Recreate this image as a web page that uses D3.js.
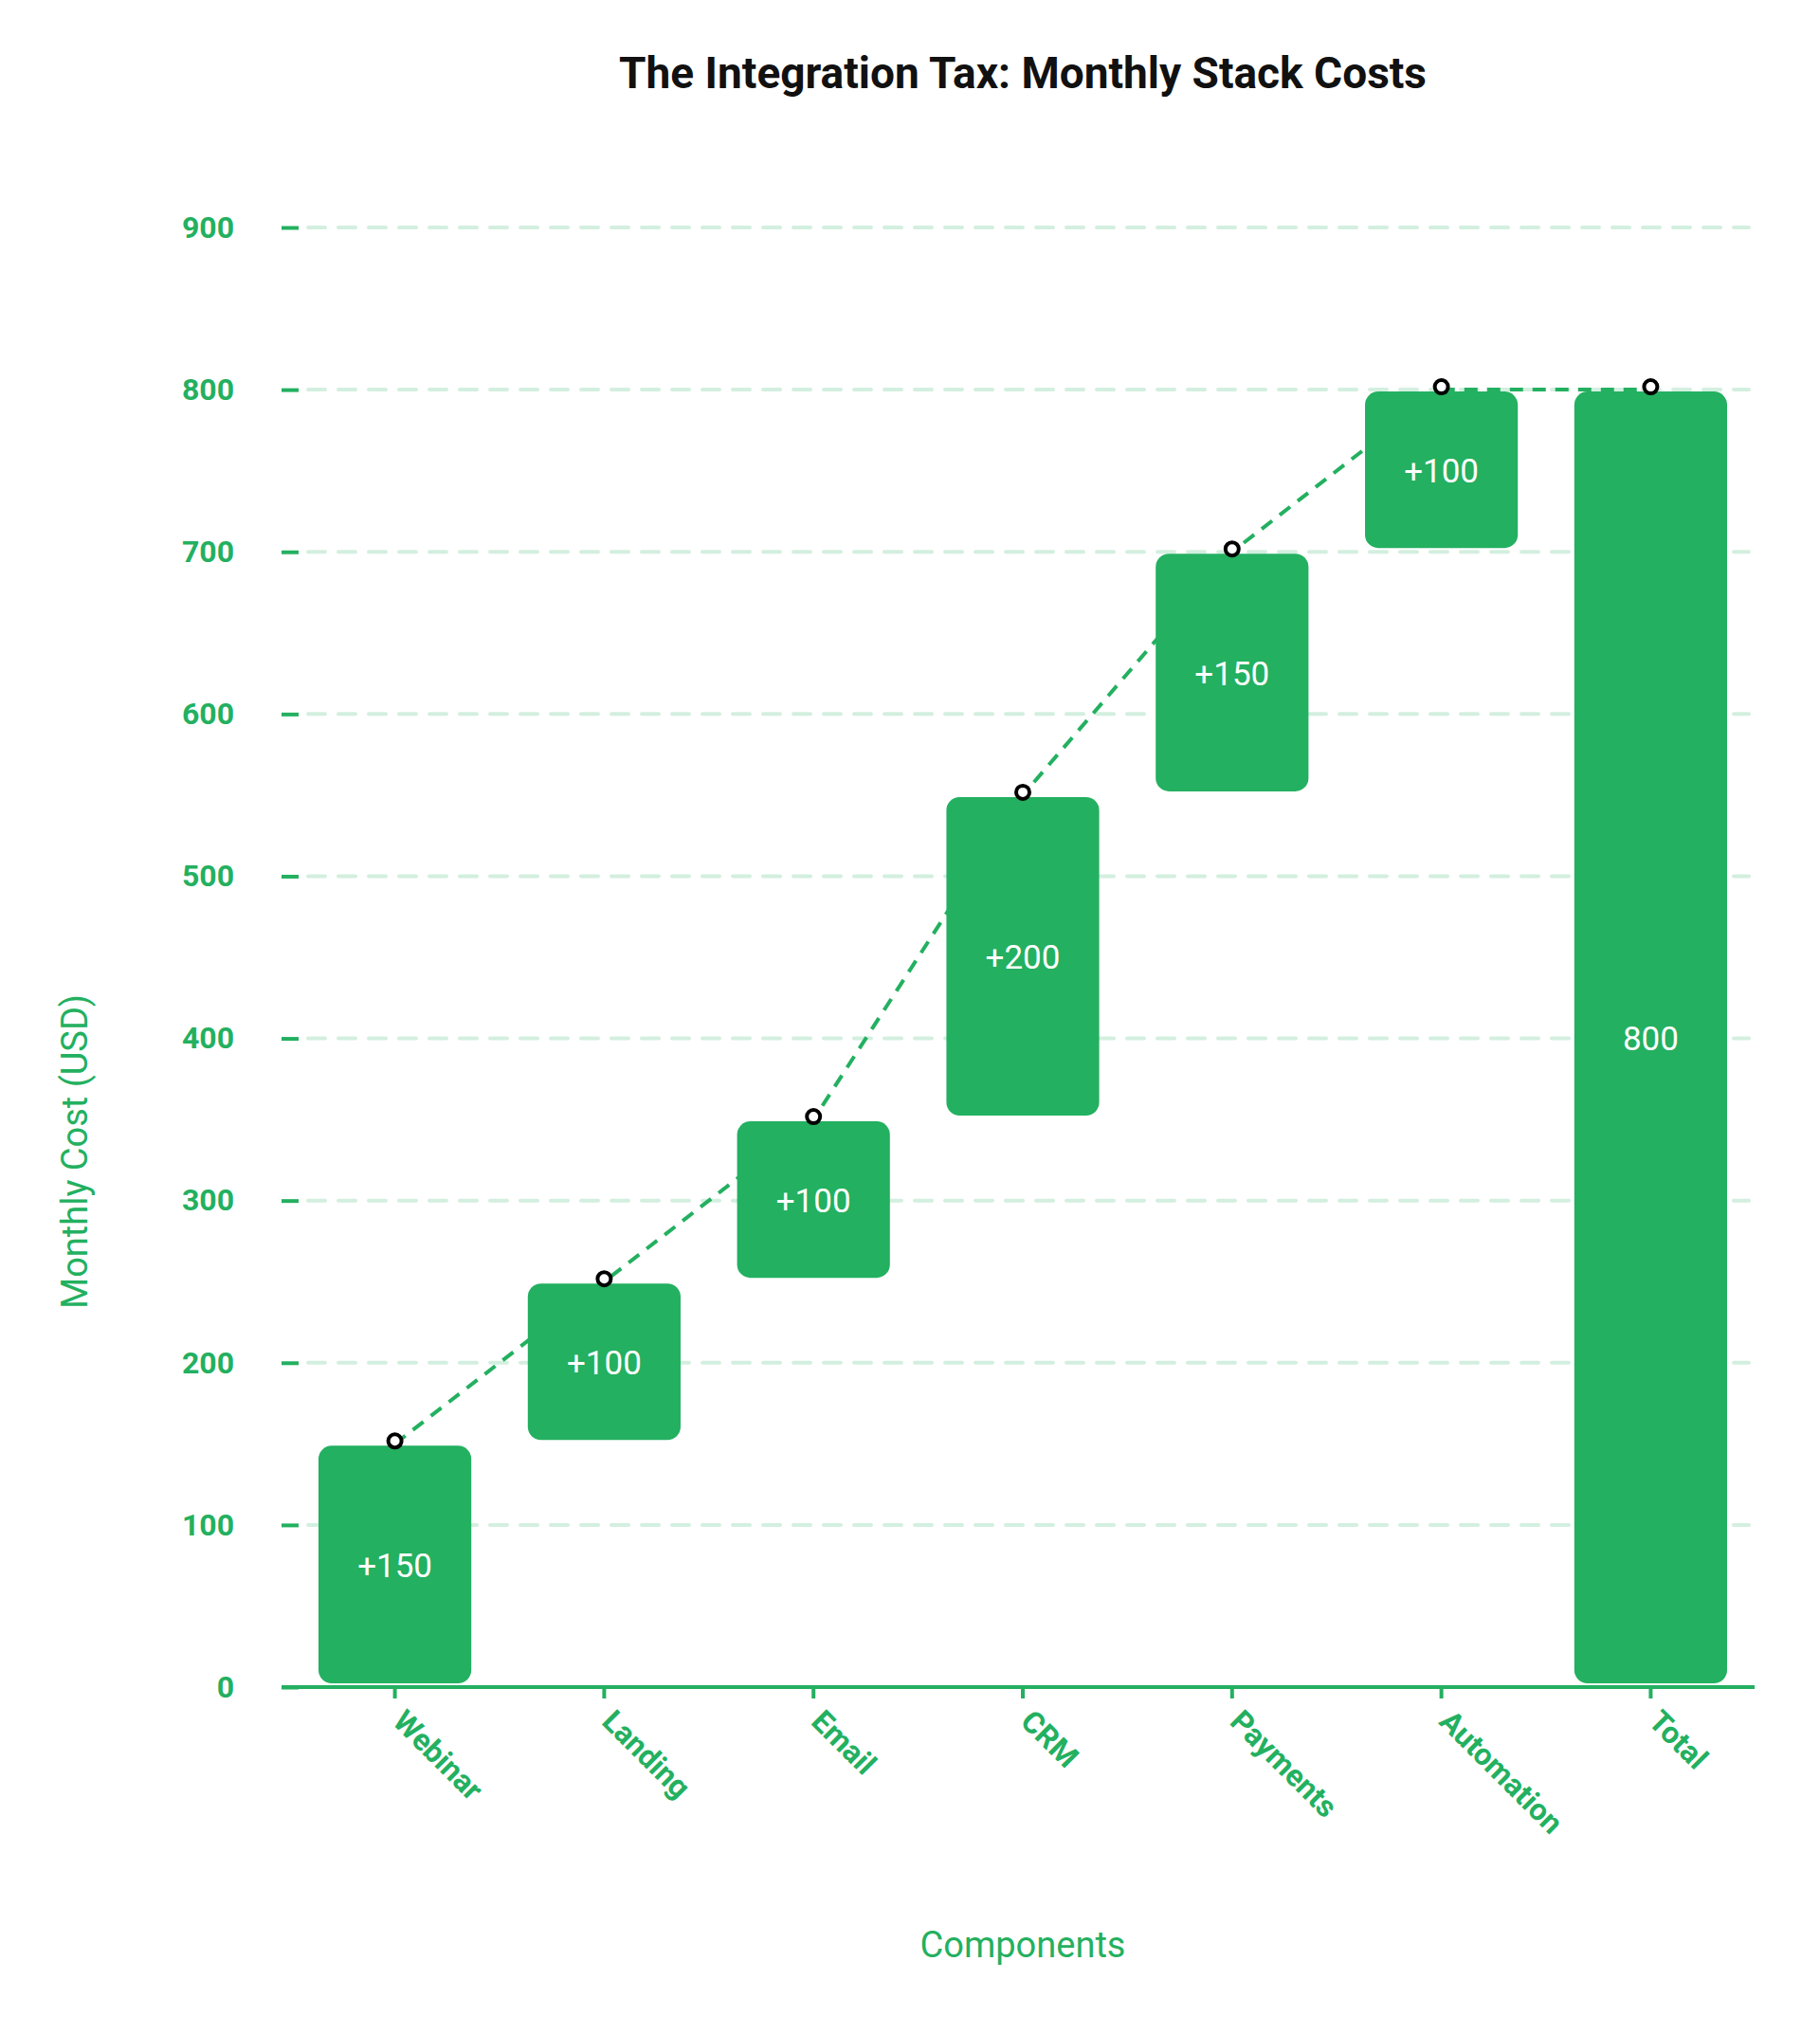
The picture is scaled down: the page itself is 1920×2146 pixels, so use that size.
<!DOCTYPE html>
<html>
<head>
<meta charset="utf-8">
<script src="https://cdn.jsdelivr.net/npm/d3@7"></script>
<style>
  body { margin: 0; background: #fff; }
  svg text { font-family: Roboto, "Noto Sans", sans-serif; }
</style>
</head>
<body>
<svg id="chart" width="1920" height="2146"></svg>
<script>
const categories = ["Webinar", "Landing", "Email", "CRM", "Payments", "Automation", "Total"];
const deltas = [150, 100, 100, 200, 150, 100, null];
const yTicks = [0, 100, 200, 300, 400, 500, 600, 700, 800, 900];

const green = "#23b060";

// build waterfall segments
let running = 0;
const bars = categories.map((c, i) => {
  if (deltas[i] === null) return { cat: c, start: 0, end: running, label: String(running) };
  const start = running;
  running += deltas[i];
  return { cat: c, start, end: running, label: "+" + deltas[i] };
});

const svg = d3.select("#chart");

const x = d3.scaleBand().domain(categories).range([336, 1822]).paddingInner(0.27).paddingOuter(0);
const y = d3.scaleLinear().domain([0, 900]).range([1780, 240]);

// title
svg.append("text")
  .attr("x", 1079).attr("y", 93)
  .attr("text-anchor", "middle")
  .style("font-size", "46px").style("font-weight", "bold").style("fill", "#111")
  .text("The Integration Tax: Monthly Stack Costs");

// grid lines
svg.append("g").selectAll("line").data(yTicks.filter(d => d > 0)).join("line")
  .attr("x1", 325).attr("x2", 1845)
  .attr("y1", d => y(d)).attr("y2", d => y(d))
  .style("stroke", "#d3efdf").style("stroke-width", 4)
  .style("stroke-dasharray", "18,14").style("stroke-linecap", "round");

// y axis
const yAxis = svg.append("g").attr("transform", "translate(315,0)")
  .call(d3.axisLeft(y).tickValues(yTicks).tickSize(18).tickPadding(50));
yAxis.select(".domain").remove();
yAxis.selectAll(".tick line").style("stroke", green).style("stroke-width", 4);
yAxis.selectAll(".tick text").style("fill", green).style("font-size", "32px").style("font-weight", "bold");

// x axis
const xAxis = svg.append("g").attr("transform", "translate(0,1780)")
  .call(d3.axisBottom(x).tickSize(12).tickSizeOuter(0));
xAxis.select(".domain").attr("d", "M297,0H1851").style("stroke", green).style("stroke-width", 4);
xAxis.selectAll(".tick line").style("stroke", green).style("stroke-width", 4);
xAxis.selectAll(".tick text")
  .style("fill", green).style("font-size", "32px").style("font-weight", "bold")
  .attr("text-anchor", "start")
  .attr("transform", "translate(4,30) rotate(45)")
  .attr("dy", "0.35em").attr("y", 0);

// connector
const pts = bars.map(b => [x(b.cat) + x.bandwidth() / 2, y(b.end)]);
svg.append("path")
  .attr("d", d3.line()(pts))
  .style("fill", "none").style("stroke", green).style("stroke-width", 4)
  .style("stroke-dasharray", "14,10");

// bars
svg.append("g").selectAll("rect").data(bars).join("rect")
  .attr("x", d => x(d.cat))
  .attr("width", x.bandwidth())
  .attr("y", d => y(d.end) + 2)
  .attr("height", d => y(d.start) - y(d.end) - 6)
  .attr("rx", 14)
  .style("fill", green);

// bar labels
svg.append("g").selectAll("text").data(bars).join("text")
  .attr("x", d => x(d.cat) + x.bandwidth() / 2)
  .attr("y", d => (y(d.start) + y(d.end)) / 2)
  .attr("dy", "0.35em")
  .attr("text-anchor", "middle")
  .style("fill", "#fff").style("font-size", "35px")
  .text(d => d.label);

// dots
svg.append("g").selectAll("circle").data(pts).join("circle")
  .attr("cx", d => d[0]).attr("cy", d => d[1] - 3)
  .attr("r", 7)
  .style("fill", "#fff").style("stroke", "#000").style("stroke-width", 4);

// axis titles
svg.append("text")
  .attr("transform", "translate(92,1215) rotate(-90)")
  .attr("text-anchor", "middle")
  .style("fill", green).style("font-size", "38px")
  .text("Monthly Cost (USD)");

svg.append("text")
  .attr("x", 1079).attr("y", 2065)
  .attr("text-anchor", "middle")
  .style("fill", green).style("font-size", "38px")
  .text("Components");
</script>
</body>
</html>
